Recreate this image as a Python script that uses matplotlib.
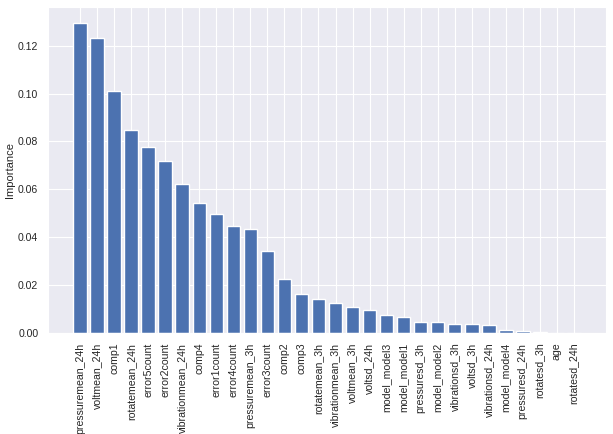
import matplotlib
matplotlib.use("Agg")
import matplotlib.pyplot as plt
import seaborn as sns
import numpy as np

# feature importances, sorted
features = ["pressuremean_24h", "voltmean_24h", "comp1", "rotatemean_24h",
            "error5count", "error2count", "vibrationmean_24h", "comp4",
            "error1count", "error4count", "pressuremean_3h", "error3count",
            "comp2", "comp3", "rotatemean_3h", "vibrationmean_3h",
            "voltmean_3h", "voltsd_24h", "model_model3", "model_model1",
            "pressuresd_3h", "model_model2", "vibrationsd_3h", "voltsd_3h",
            "vibrationsd_24h", "model_model4", "pressuresd_24h", "rotatesd_3h",
            "age", "rotatesd_24h"]
importance = [0.1297, 0.1233, 0.1010, 0.0849, 0.0778, 0.0720, 0.0623, 0.0545,
              0.0498, 0.0448, 0.0435, 0.0344, 0.0226, 0.0163, 0.0142, 0.0126,
              0.0109, 0.0096, 0.0075, 0.0067, 0.0046, 0.0046, 0.0038, 0.0038,
              0.0033, 0.0013, 0.0008, 0.0004, 0.0, 0.0]

sns.set_style("darkgrid")
plt.rcParams['font.family'] = ['Liberation Sans', 'DejaVu Sans']

fig = plt.figure(figsize=(6.13, 4.34), dpi=100)
ax = fig.add_axes([48/613, 101/434, 558/613, 326/434])

x = np.arange(len(features))
ax.bar(x, importance, width=0.8, color="#4C72B0")
ax.set_xticks(x)
ax.set_xticklabels(features, rotation=90, fontsize=7.6, color=".15")
ax.tick_params(axis="y", labelsize=7.6, labelcolor=".15")
ax.set_ylabel("Importance", fontsize=8, color=".15", labelpad=2)
ax.set_yticks([0.0, 0.02, 0.04, 0.06, 0.08, 0.10, 0.12])
ax.set_yticklabels(["0.00", "0.02", "0.04", "0.06", "0.08", "0.10", "0.12"])

fig.savefig("out.png", dpi=100)
